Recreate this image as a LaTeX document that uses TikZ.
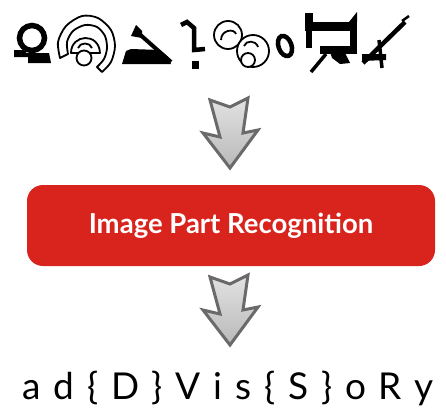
\documentclass[tikz,border=0pt]{standalone}
\usepackage{fontspec}
\newfontfamily\boxfont{Lato}
\newfontfamily\trackfont[LetterSpace=35]{Lato}
\definecolor{boxred}{HTML}{D8241D}
\definecolor{arrowedge}{HTML}{6A6A6A}
\definecolor{arrowtop}{HTML}{E2E2E2}
\definecolor{arrowbot}{HTML}{B9B9B9}
\tikzset{
  glyphink/.style={fill=black},
  glyphline/.style={draw=black, line width=1.8pt, fill=white, line join=round},
  downarrow/.style={draw=arrowedge, line width=3pt, line join=miter,
    top color=arrowtop, bottom color=arrowbot},
  stagebox/.style={fill=boxred, rounded corners=16pt}
}
\begin{document}
\begin{tikzpicture}[x=1pt, y=-1pt]
\useasboundingbox (0,0) rectangle (446,415);

% ---- distorted character string ----
% glyph 1: ring on a base bar
\draw[line width=5.5pt] (32,38) circle (12.5);
\fill[glyphink] (14,50) -- (26,50) -- (26,53) -- (49,53) -- (51,63) -- (28,63) -- (28,57) -- (14,57) -- cycle;
% glyph 2: outlined spiral
\draw[glyphline] plot[smooth] coordinates {(60,58) (58,42) (66,26) (82,16) (98,18) (111,30) (115,46) (111,62) (102,72)}
  -- plot[smooth] coordinates {(97,67) (104,59) (107,48) (105,36) (97,27) (85,25) (73,31) (67,42) (68,54)} -- cycle;
\draw[glyphline] (71,53) .. controls (71,34) and (99,32) .. (100,53) -- cycle;
\draw[glyphline] (84,58) circle (7.5);
\draw[glyphline, fill=none] (78,48) .. controls (80,42) and (90,42) .. (92,48);
% glyph 3: slanted angle sign
\draw[line width=4pt] (136,31) -- (171,62);
\fill[glyphink] (131,36) -- (136,25) -- (142,31) -- (142,38) -- cycle;
\fill[glyphink] (122,64) -- (126,51) -- (131,49) -- (160,50) -- (168,57) -- (171,64) -- cycle;
% glyph 4: hooked stroke with dot
\draw[line width=4.5pt, line join=miter] (181,25) -- (187,22) -- (194,28) -- (194,50) -- (205,49);
\fill[glyphink] (192,61) rectangle (199,69);
% glyph 5: outlined double curl
\draw[glyphline] (228,35) circle (14);
\draw[glyphline] (253,51) circle (16);
\draw[glyphline] (248,60) circle (7);
\draw[glyphline, fill=none] (221,40) .. controls (221,30) and (234,28) .. (236,34);
\draw[glyphline, fill=none] (244,46) .. controls (246,40) and (256,40) .. (258,47);
% glyph 6: slanted zero
\draw[line width=4.5pt, rotate around={20:(285,46)}] (285,46) ellipse (6.5 and 10.5);
% glyph 7: blocky R
\fill[glyphink] (305,13) -- (313,13) -- (313,22) -- (305,22) -- cycle;
\fill[glyphink] (349,22) -- (357,12) -- (357,22) -- cycle;
\fill[glyphink] (305,22) rectangle (357,31);
\fill[glyphink] (306,31) rectangle (312,48);
\fill[glyphink] (350,31) rectangle (357,54);
\fill[glyphink] (320,46) rectangle (357,54);
\draw[line width=3.5pt] (326,54) -- (311,72);
\fill[glyphink] (330,52) -- (345,53) -- (350,63) -- (340,64) -- (332,58) -- cycle;
% glyph 8: slanted four
\draw[line width=4.5pt] (363,63) -- (405,22);
\draw[line width=3.5pt] (379,40) -- (382,68);
\fill[glyphink] (362,54) -- (386,54) -- (386,60) -- (362,61) -- cycle;
\draw[line width=2.5pt] (402,21) -- (409,16);

% ---- flow ----
\draw[downarrow] (210,100) -- (230,107) -- (248,98) -- (243,133) -- (258,130) -- (230,168) -- (203,133) -- (220,137) -- cycle;

\fill[stagebox] (27,185) rectangle (435,266);
\node[text=white, font=\boxfont\bfseries\fontsize{27.5}{30}\selectfont, anchor=base, inner sep=0pt] (stage) at (231,233) {Image Part Recognition};

\draw[downarrow] (210,277) -- (230,284) -- (248,275) -- (243,310) -- (258,307) -- (230,345) -- (203,310) -- (220,314) -- cycle;

\node[font=\trackfont\fontsize{37}{42}\selectfont, anchor=base west, inner sep=0pt] (result) at (22,399) {ad\{D\}Vis\{S\}oRy};
\end{tikzpicture}
\end{document}
